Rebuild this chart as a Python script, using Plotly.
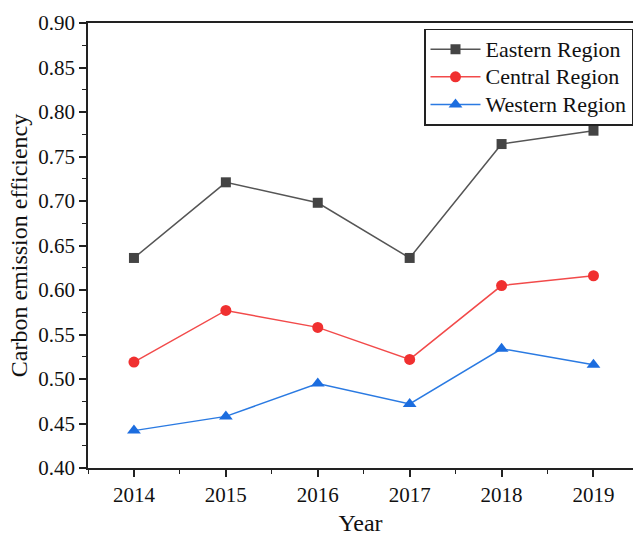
import plotly.graph_objects as go

years = [2014, 2015, 2016, 2017, 2018, 2019]
eastern = [0.636, 0.721, 0.698, 0.636, 0.764, 0.779]
central = [0.519, 0.577, 0.558, 0.522, 0.605, 0.616]
western = [0.442, 0.458, 0.495, 0.472, 0.534, 0.516]
series_names = ["Eastern Region", "Central Region", "Western Region"]
y_ticks = [0.40, 0.45, 0.50, 0.55, 0.60, 0.65, 0.70, 0.75, 0.80, 0.85, 0.90]

font = "Liberation Serif, Times New Roman, serif"


def legend_name(s):
    return '<span style="font-size:22px">%s</span>' % s


fig = go.Figure()
fig.add_trace(go.Scatter(x=years, y=eastern, name=legend_name(series_names[0]), mode="lines+markers",
                         line=dict(color="#555555", width=1.5),
                         marker=dict(symbol="square", size=10, color="#444444")))
fig.add_trace(go.Scatter(x=years, y=central, name=legend_name(series_names[1]), mode="lines+markers",
                         line=dict(color="#f24a4a", width=1.5),
                         marker=dict(symbol="circle", size=11, color="#f03030")))
fig.add_trace(go.Scatter(x=years, y=western, name=legend_name(series_names[2]), mode="lines+markers",
                         line=dict(color="#2a7ae2", width=1.5),
                         marker=dict(symbol="triangle-up", size=12, color="#1c6ddf")))

fig.update_layout(
    width=633, height=536,
    margin=dict(l=88, r=0, t=23, b=68),
    paper_bgcolor="white", plot_bgcolor="white",
    font=dict(family=font, size=21, color="#111111"),
    showlegend=True,
    legend=dict(x=1, y=0.987, xanchor="right", yanchor="top",
                bordercolor="#222222", borderwidth=1.5, bgcolor="white",
                font=dict(family=font, size=19), tracegroupgap=0,
                itemwidth=50),
    xaxis=dict(range=[2013.5, 2019.43], tickmode="array", tickvals=years,
               ticktext=[str(y) for y in years],
               showgrid=False, zeroline=False, showline=True, linecolor="#222222",
               linewidth=1.5, mirror=True, ticks="outside", ticklen=7, tickwidth=1.5,
               tickcolor="#222222",
               minor=dict(tickvals=[2013.5 + i for i in range(7)], ticks="outside",
                          ticklen=4, tickwidth=1.2, tickcolor="#222222"),
               title=dict(text="Year", font=dict(family=font, size=24), standoff=8),
               tickfont=dict(family=font, size=21)),
    yaxis=dict(range=[0.40, 0.90], tickmode="array",
               tickvals=y_ticks,
               ticktext=["%.2f" % v for v in y_ticks],
               showgrid=False, zeroline=False, showline=True, linecolor="#222222",
               linewidth=1.5, mirror=False, ticks="outside", ticklen=7, tickwidth=1.5,
               tickcolor="#222222",
               minor=dict(tickvals=[0.425 + 0.05 * i for i in range(10)], ticks="outside",
                          ticklen=4, tickwidth=1.2, tickcolor="#222222"),
               title=dict(text="Carbon emission efficiency", font=dict(family=font, size=24), standoff=4),
               tickfont=dict(family=font, size=21)),
)

fig.write_html("out.html", config={"displayModeBar": False},
               post_script="document.body.style.margin='0';document.body.style.overflow='hidden';")
